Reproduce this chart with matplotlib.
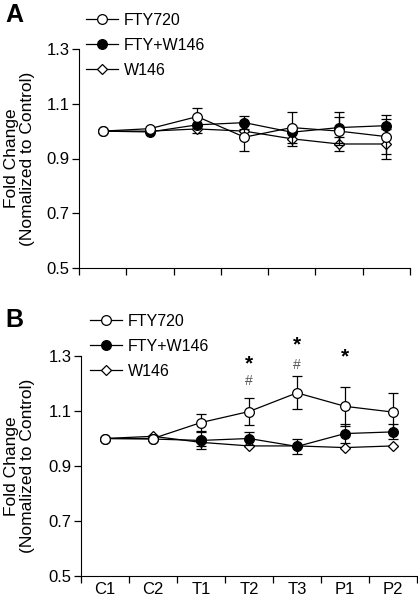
import numpy as np
import matplotlib
matplotlib.use("Agg")
import matplotlib.pyplot as plt
from matplotlib.lines import Line2D
from matplotlib.ticker import FixedLocator

plt.rcParams['font.family'] = ['Liberation Sans', 'DejaVu Sans']

categories = ["C1", "C2", "T1", "T2", "T3", "P1", "P2"]
yticks = [0.5, 0.7, 0.9, 1.1, 1.3]

# panel A
a_fty = [1.0, 1.009, 1.053, 0.978, 1.013, 1.0, 0.98]
a_fty_err = [0.0, 0.0, 0.03, 0.05, 0.058, 0.05, 0.065]
a_fw = [1.0, 0.997, 1.023, 1.031, 0.996, 1.013, 1.02]
a_fw_err = [0.0, 0.0, 0.0, 0.024, 0.0, 0.057, 0.038]
a_w = [1.0, 1.0, 1.008, 1.0, 0.972, 0.953, 0.953]
a_w_err = [0.0, 0.0, 0.015, 0.0, 0.025, 0.024, 0.053]

# panel B
b_fty = [1.0, 1.0, 1.058, 1.098, 1.166, 1.117, 1.096]
b_fty_err = [0.0, 0.0, 0.031, 0.049, 0.06, 0.07, 0.07]
b_fw = [1.0, 0.998, 0.993, 1.0, 0.971, 1.018, 1.024]
b_fw_err = [0.0, 0.0, 0.03, 0.024, 0.027, 0.035, 0.027]
b_w = [1.0, 1.008, 0.986, 0.973, 0.973, 0.967, 0.973]
b_w_err = [0.0, 0.0, 0.015, 0.0, 0.0, 0.0, 0.0]

# significance marks (category index, y value)
star_marks = [(3, 1.27), (4, 1.342), (5, 1.297)]
hash_marks = [(3, 1.21), (4, 1.266)]

W, H = 418, 596
fig = plt.figure(figsize=(W / 100, H / 100), dpi=100)
axA = fig.add_axes([79 / W, 1 - 268 / H, 331 / W, 219 / H])
axB = fig.add_axes([81 / W, 1 - 576 / H, 336 / W, 220 / H])

x = np.arange(len(categories)) + 0.5

styles = {
    "FTY720": dict(marker="o", ms=7, mfc="white"),
    "FTY+W146": dict(marker="o", ms=7, mfc="black"),
    "W146": dict(marker="D", ms=5.5, mfc="white"),
}


def draw_panel(ax, fty, fty_err, fw, fw_err, w, w_err, show_labels, leg_xy):
    kw = dict(color="black", lw=0.9, capsize=3.5, elinewidth=0.9, capthick=0.9,
              mec="black", mew=0.9)
    ax.errorbar(x, w, yerr=w_err, zorder=2, **styles["W146"], **kw)
    ax.errorbar(x, fw, yerr=fw_err, zorder=3, **styles["FTY+W146"], **kw)
    ax.errorbar(x, fty, yerr=fty_err, zorder=4, **styles["FTY720"], **kw)
    ax.set_xlim(0, len(categories))
    ax.set_ylim(0.5, 1.3)
    ax.set_yticks(yticks)
    ax.set_yticklabels([f"{v:.1f}" for v in yticks], fontsize=12)
    ax.spines["top"].set_visible(False)
    ax.spines["right"].set_visible(False)
    ax.spines["left"].set_bounds(0.5, 1.3)
    ax.xaxis.set_minor_locator(FixedLocator(np.arange(len(categories) + 1)))
    ax.set_xticks(x)
    if show_labels:
        ax.set_xticklabels(categories, fontsize=12)
    else:
        ax.set_xticklabels([])
    ax.tick_params(axis="x", which="major", length=0, pad=4)
    ax.tick_params(axis="x", which="minor", length=5, width=0.9, direction="out")
    ax.tick_params(axis="y", length=5, width=0.9, direction="out", pad=2)
    ax.set_ylabel("Fold Change\n(Nomalized to Control)", fontsize=12.5,
                  linespacing=1.05)
    pos = ax.get_position()
    ax.yaxis.set_label_coords((35 / W - pos.x0) / pos.width, 0.5)

    handles = [Line2D([], [], color="black", lw=0.9, mec="black", mew=0.9, **styles[k])
               for k in ["FTY720", "FTY+W146", "W146"]]
    fig.legend(handles, ["FTY720", "FTY+W146", "W146"], loc="upper left",
               bbox_to_anchor=leg_xy, frameon=False, fontsize=11.5,
               handlelength=2.0, handletextpad=0.35, labelspacing=0.62,
               borderaxespad=0, borderpad=0)


draw_panel(axA, a_fty, a_fty_err, a_fw, a_fw_err, a_w, a_w_err, False,
           (86 / W, 1 - 13 / H))
draw_panel(axB, b_fty, b_fty_err, b_fw, b_fw_err, b_w, b_w_err, True,
           (90 / W, 1 - 314 / H))

for i, yv in star_marks:
    axB.text(x[i], yv, "*", ha="center", va="center", fontsize=15, fontweight="bold",
             clip_on=False)
for i, yv in hash_marks:
    axB.text(x[i], yv, "#", ha="center", va="center", fontsize=10, color="#555555",
             clip_on=False)

fig.text(0.012, 0.995, "A", fontsize=18, fontweight="bold", va="top", ha="left")
fig.text(0.012, 0.483, "B", fontsize=18, fontweight="bold", va="top", ha="left")

fig.savefig("out.png", dpi=100)
